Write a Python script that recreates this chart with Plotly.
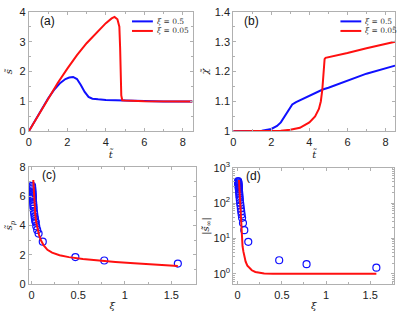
import plotly.graph_objects as go

# ---- panel (a): s~ vs t~ ----
t_a_blue = [0, 0.5, 1.0, 1.3, 1.6, 1.9, 2.1, 2.3, 2.5, 2.7, 2.9, 3.1, 3.3, 3.6, 4.0, 5.0, 6.0, 7.0, 8.5]
s_a_blue = [0, 0.55, 1.1, 1.38, 1.6, 1.75, 1.8, 1.82, 1.75, 1.55, 1.32, 1.15, 1.09, 1.07, 1.05, 1.03, 1.01, 1.0, 1.0]
t_a_red = [0, 0.5, 1.0, 1.5, 2.0, 2.5, 3.0, 3.5, 4.0, 4.3, 4.45, 4.6, 4.7, 4.74, 4.77, 4.8, 4.85, 5.0, 6.0, 7.0, 8.5]
s_a_red = [0, 0.55, 1.1, 1.62, 2.1, 2.55, 2.95, 3.3, 3.62, 3.78, 3.83, 3.75, 3.5, 2.8, 1.8, 1.2, 1.04, 1.03, 1.01, 1.0, 1.0]

# ---- panel (b): chi~ vs t~ ----
t_b_blue = [0, 1.0, 1.5, 2.0, 2.3, 2.5, 2.7, 2.9, 3.1, 3.3, 3.6, 4.0, 4.7, 5.0, 6.0, 7.0, 8.5]
c_b_blue = [1.0, 1.0, 1.002, 1.008, 1.018, 1.03, 1.05, 1.072, 1.09, 1.098, 1.107, 1.12, 1.14, 1.146, 1.17, 1.193, 1.22]
t_b_red = [0, 2.0, 2.5, 3.0, 3.5, 4.0, 4.3, 4.5, 4.6, 4.68, 4.73, 4.77, 4.8, 4.85, 5.0, 6.0, 7.0, 8.5]
c_b_red = [1.0, 1.0, 1.002, 1.005, 1.012, 1.03, 1.05, 1.075, 1.1, 1.14, 1.19, 1.23, 1.242, 1.246, 1.248, 1.262, 1.278, 1.3]

# ---- panels (c), (d): simulation points vs xi ----
xi_pts = [0.005, 0.006, 0.007, 0.008, 0.009, 0.010, 0.011, 0.012, 0.013, 0.014, 0.016, 0.018, 0.020,
          0.022, 0.025, 0.028, 0.032, 0.036, 0.040, 0.045, 0.050, 0.060, 0.075, 0.12, 0.47, 0.78, 1.57]
sp_pts = [6.7, 6.6, 6.5, 6.4, 6.3, 6.2, 6.1, 6.0, 5.9, 5.8, 5.6, 5.45, 5.3,
          5.15, 4.95, 4.8, 4.6, 4.45, 4.3, 4.2, 3.95, 3.7, 3.45, 2.9, 1.85, 1.62, 1.41]
sd_pts = [420, 400, 380, 360, 340, 320, 300, 280, 260, 240, 210, 185, 160,
          140, 120, 100, 85, 70, 58, 47, 38, 27, 17, 8, 2.4, 1.86, 1.48]

xi_c_curve = [0.018, 0.025, 0.03, 0.04, 0.05, 0.065, 0.08, 0.1, 0.13, 0.17, 0.22, 0.3, 0.4, 0.55, 0.7, 0.9, 1.1, 1.3, 1.57]
sp_curve = [7.1, 6.0, 5.4, 4.7, 4.2, 3.7, 3.35, 3.0, 2.65, 2.35, 2.15, 1.98, 1.85, 1.72, 1.62, 1.52, 1.43, 1.35, 1.25]

xi_d_curve = [0.015, 0.02, 0.025, 0.03, 0.037, 0.045, 0.055, 0.065, 0.075, 0.09, 0.11, 0.13, 0.16, 0.2, 0.25, 0.3, 0.4, 0.6, 1.0, 1.57]
sd_curve = [450, 240, 130, 70, 30, 11, 6, 4.2, 3.1, 2.2, 1.7, 1.5, 1.25, 1.12, 1.05, 1.02, 1.0, 1.0, 1.0, 1.0]

x_ticks_t = [0, 2, 4, 6, 8]
chi_ticks = [1.0, 1.1, 1.2, 1.3, 1.4]
chi_labels = ["1", "1.1", "1.2", "1.3", "1.4"]
legend_labels = ["<i>ξ</i> = 0.5", "<i>ξ</i> = 0.05"]

BLUE = "#1010ff"
RED = "#ff1010"
W, H = 399, 319

fig = go.Figure()

fig.add_trace(go.Scatter(x=t_a_blue, y=s_a_blue, mode="lines", line=dict(color=BLUE, width=2),
                         name=legend_labels[0], showlegend=False, xaxis="x", yaxis="y"))
fig.add_trace(go.Scatter(x=t_a_red, y=s_a_red, mode="lines", line=dict(color=RED, width=2),
                         name=legend_labels[1], showlegend=False, xaxis="x", yaxis="y"))
fig.add_trace(go.Scatter(x=t_b_blue, y=c_b_blue, mode="lines", line=dict(color=BLUE, width=2),
                         name=legend_labels[0], showlegend=False, xaxis="x2", yaxis="y2"))
fig.add_trace(go.Scatter(x=t_b_red, y=c_b_red, mode="lines", line=dict(color=RED, width=2),
                         name=legend_labels[1], showlegend=False, xaxis="x2", yaxis="y2"))
fig.add_trace(go.Scatter(x=xi_pts, y=sp_pts, mode="markers",
                         marker=dict(symbol="circle-open", size=7, color=BLUE, line=dict(width=1.2)),
                         showlegend=False, xaxis="x3", yaxis="y3"))
fig.add_trace(go.Scatter(x=xi_c_curve, y=sp_curve, mode="lines", line=dict(color=RED, width=2),
                         showlegend=False, xaxis="x3", yaxis="y3"))
fig.add_trace(go.Scatter(x=xi_pts, y=sd_pts, mode="markers",
                         marker=dict(symbol="circle-open", size=7, color=BLUE, line=dict(width=1.2)),
                         showlegend=False, xaxis="x4", yaxis="y4"))
fig.add_trace(go.Scatter(x=xi_d_curve, y=sd_curve, mode="lines", line=dict(color=RED, width=2),
                         showlegend=False, xaxis="x4", yaxis="y4"))

def px_x(a, b):
    return [a / W, b / W]

def px_y(top, bottom):
    return [1 - bottom / H, 1 - top / H]

common = dict(showline=True, linecolor="#b0b0b0", linewidth=1, mirror="allticks", ticks="inside",
              ticklen=3, tickcolor="#b0b0b0", showgrid=False, zeroline=False,
              tickfont=dict(size=11, color="#222", family="Liberation Sans"))
title_font = dict(size=10, color="#222", family="DejaVu Serif")
minor = dict(ticks="inside", ticklen=2, tickcolor="#b0b0b0", showgrid=False)

# manual legends (sample line + label) for panels (a) and (b)
shapes = []
annotations = []
for x0, x1, tx in [(130, 151, 153), (340, 361, 363)]:
    for i, (col, yy) in enumerate([(BLUE, 14), (RED, 24)]):
        shapes.append(dict(type="line", xref="paper", yref="paper", x0=x0 / W, x1=x1 / W,
                           y0=1 - yy / H, y1=1 - yy / H, line=dict(color=col, width=2)))
        annotations.append(dict(text=legend_labels[i], x=tx / W, y=1 - yy / H, xref="paper", yref="paper",
                                showarrow=False, xanchor="left", yanchor="middle",
                                font=dict(size=7.5, family="DejaVu Serif", color="#333")))

for lbl, x, y in [("(a)", 35, 14), ("(b)", 241, 14), ("(c)", 37, 175), ("(d)", 243, 176)]:
    annotations.append(dict(text=lbl, x=x / W, y=1 - y / H, xref="paper", yref="paper", showarrow=False,
                            xanchor="left", yanchor="middle",
                            font=dict(size=12, family="Liberation Sans", color="#111")))

fig.update_layout(
    width=W, height=H, margin=dict(l=0, r=0, t=0, b=0),
    paper_bgcolor="white", plot_bgcolor="white", showlegend=False,
    xaxis=dict(domain=px_x(26, 191), range=[0, 8.5], tickvals=x_ticks_t, anchor="y",
               title=dict(text="<i>t̃</i>", font=title_font, standoff=2), minor=dict(minor, dtick=1), **common),
    yaxis=dict(domain=px_y(4, 129), range=[0, 4], dtick=1, anchor="x",
               title=dict(text="<i>s̃</i>", font=title_font, standoff=4), minor=dict(minor, dtick=0.5), **common),
    xaxis2=dict(domain=px_x(232, 395), range=[0, 8.5], tickvals=x_ticks_t, anchor="y2",
                title=dict(text="<i>t̃</i>", font=title_font, standoff=2), minor=dict(minor, dtick=1), **common),
    yaxis2=dict(domain=px_y(4, 129), range=[1, 1.4], tickvals=chi_ticks, ticktext=chi_labels, anchor="x2",
                title=dict(text="<i>χ̃</i>", font=title_font, standoff=4), minor=dict(minor, dtick=0.05), **common),
    xaxis3=dict(domain=px_x(26, 194), range=[-0.03, 1.76], tickvals=[0, 0.5, 1, 1.5], anchor="y3",
                title=dict(text="<i>ξ</i>", font=title_font, standoff=2), minor=dict(minor, dtick=0.25), **common),
    yaxis3=dict(domain=px_y(166, 289), range=[0, 8], dtick=2, anchor="x3",
                title=dict(text="<i>s̃<sub>p</sub></i>", font=title_font, standoff=4), minor=dict(minor, dtick=1), **common),
    xaxis4=dict(domain=px_x(232, 394), range=[-0.05, 1.77], tickvals=[0, 0.5, 1, 1.5], anchor="y4",
                title=dict(text="<i>ξ</i>", font=title_font, standoff=2), minor=dict(minor, dtick=0.25), **common),
    yaxis4=dict(domain=px_y(167, 289), type="log", range=[-0.3, 3.0], anchor="x4",
                tickvals=[1, 10, 100, 1000],
                ticktext=["10<sup>0</sup>", "10<sup>1</sup>", "10<sup>2</sup>", "10<sup>3</sup>"],
                title=dict(text="|<i>s̃̇<sub>∞</sub></i>|", font=title_font, standoff=2),
                minor=dict(minor, dtick="D1"), **common),
    shapes=shapes,
    annotations=annotations,
)

fig.write_html("out.html", config={"displayModeBar": False},
               post_script="document.body.style.margin='0';document.body.style.overflow='hidden';")
